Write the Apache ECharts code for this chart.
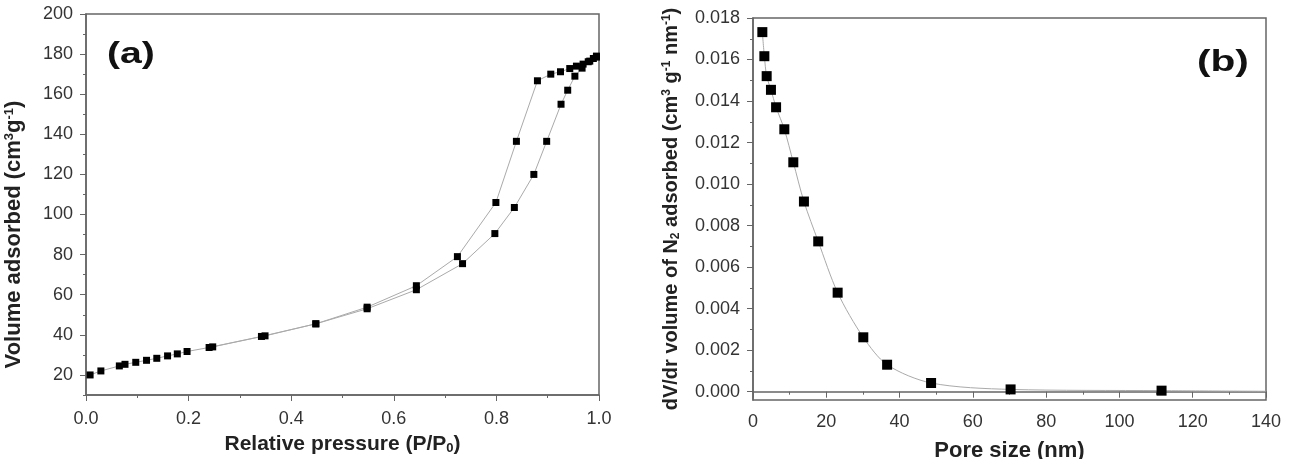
<!DOCTYPE html>
<html>
<head>
<meta charset="utf-8">
<script src="https://cdn.jsdelivr.net/npm/echarts@6/dist/echarts.min.js"></script>
<style>
  html, body { margin: 0; padding: 0; background: #fff; }
  #chart { width: 1299px; height: 459px; }
</style>
</head>
<body>
<div id="chart"></div>
<script>
// (a) N2 isotherm - adsorption branch
var pAds = [0.008, 0.029, 0.065, 0.076, 0.097, 0.118, 0.138, 0.159, 0.178, 0.197, 0.240, 0.342, 0.448, 0.548, 0.644, 0.734, 0.797, 0.835, 0.873, 0.898, 0.926, 0.939, 0.953, 0.967, 0.982, 0.995];
var vAds = [20, 22, 24.5, 25.3, 26.3, 27.3, 28.3, 29.5, 30.5, 31.7, 33.7, 39.2, 45.5, 53, 62.5, 75.5, 90.5, 103.5, 120, 136.5, 155, 162, 169, 173, 176.5, 178.5];
// (a) desorption branch
var pDes = [0.995, 0.989, 0.979, 0.969, 0.956, 0.943, 0.925, 0.906, 0.880, 0.839, 0.799, 0.724, 0.644, 0.548, 0.448, 0.349, 0.247];
var vDes = [179, 177.8, 176.2, 175, 174, 172.8, 171.2, 170, 166.7, 136.5, 106, 79, 64.5, 53.8, 45.5, 39.5, 34];

// (b) pore size distribution
var poreSize = [2.55, 3.1, 3.73, 4.9, 6.3, 8.55, 11.0, 13.9, 17.8, 23.1, 30.1, 36.6, 48.6, 70.3, 111.5, 140];
var dvdr = [0.01732, 0.01616, 0.0152, 0.01454, 0.0137, 0.01264, 0.01105, 0.00916, 0.00724, 0.00477, 0.00262, 0.0013, 0.00042, 0.00011, 0.00005, 0.00002];

// tick values
var volTicks = [20, 40, 60, 80, 100, 120, 140, 160, 180, 200];
var volMinor = [10, 30, 50, 70, 90, 110, 130, 150, 170, 190];
var dvTicks = [0, 0.002, 0.004, 0.006, 0.008, 0.010, 0.012, 0.014, 0.016, 0.018];
var dvMinor = [0.001, 0.003, 0.005, 0.007, 0.009, 0.011, 0.013, 0.015, 0.017];

function pairs(xs, ys) {
  return xs.map(function (x, i) { return [x, ys[i]]; });
}

var chart = echarts.init(document.getElementById('chart'));

var font = 'Arial, "Liberation Sans", sans-serif';
var axisCol = '#666';
var lblStyle = { color: '#333', fontSize: 18, fontFamily: font };
function richFor(size) {
  var small = Math.round(size * 0.6);
  return {
    b: { fontSize: size, fontWeight: 'bold', fontFamily: font, color: '#222' },
    sup: { fontSize: small, fontWeight: 'bold', fontFamily: font, color: '#222', verticalAlign: 'top', padding: [0, 0, 9, 0] },
    sub: { fontSize: small, fontWeight: 'bold', fontFamily: font, color: '#222', verticalAlign: 'bottom', padding: [9, 0, 0, 0] }
  };
}

var option = {
  backgroundColor: '#fff',
  animation: false,
  grid: [
    { left: 86, top: 14, width: 513, height: 381, show: true, borderColor: axisCol, borderWidth: 1.5, containLabel: false, outerBoundsMode: 'none' },
    { left: 753, top: 18, width: 513, height: 382, show: true, borderColor: axisCol, borderWidth: 1.5, containLabel: false, outerBoundsMode: 'none' }
  ],
  xAxis: [
    {
      gridIndex: 0, type: 'value', min: 0, max: 1, interval: 0.2,
      name: '{b|Relative pressure (P/P}{sub|0}{b|)}',
      nameLocation: 'middle', nameGap: 38,
      nameTextStyle: { rich: richFor(21) },
      axisLine: { lineStyle: { color: axisCol, width: 1.5 } },
      axisTick: { length: 6, lineStyle: { color: axisCol } },
      minorTick: { show: true, splitNumber: 2, length: 3, lineStyle: { color: axisCol } },
      axisLabel: Object.assign({ margin: 15, formatter: function (v) { return v.toFixed(1); } }, lblStyle),
      splitLine: { show: false }
    },
    {
      gridIndex: 1, type: 'value', min: 0, max: 140, interval: 20,
      name: '{b|Pore size (nm)}',
      nameLocation: 'middle', nameGap: 40,
      nameTextStyle: { rich: richFor(22) },
      axisLine: { lineStyle: { color: axisCol, width: 1.5 } },
      axisTick: { length: 6, lineStyle: { color: axisCol } },
      minorTick: { show: true, splitNumber: 2, length: 3, lineStyle: { color: axisCol } },
      axisLabel: Object.assign({ margin: 13 }, lblStyle),
      splitLine: { show: false }
    }
  ],
  yAxis: [
    {
      gridIndex: 0, type: 'value', min: 10, max: 200, position: 'left',
      name: '{b|Volume adsorbed (cm}{sup|3}{b|g}{sup|-1}{b|)}',
      nameLocation: 'middle', nameGap: 61,
      nameTextStyle: { rich: richFor(22), padding: [0, 60, 0, 0] },
      axisLine: { lineStyle: { color: axisCol, width: 1.5 } },
      axisTick: { length: 6, customValues: volTicks, lineStyle: { color: axisCol } },
      axisLabel: Object.assign({ margin: 13, customValues: volTicks }, lblStyle),
      splitLine: { show: false }
    },
    {
      gridIndex: 0, type: 'value', min: 10, max: 200, position: 'left',
      axisLine: { show: false },
      axisTick: { length: 3, customValues: volMinor, lineStyle: { color: axisCol } },
      axisLabel: { show: false },
      splitLine: { show: false }
    },
    {
      gridIndex: 1, type: 'value', min: -0.0004, max: 0.018, position: 'left',
      name: '{b|dV/dr volume of N}{sub|2}{b| adsorbed (cm}{sup|3}{b| g}{sup|-1}{b| nm}{sup|-1}{b|)}',
      nameLocation: 'middle', nameGap: 71,
      nameTextStyle: { rich: richFor(20) },
      axisLine: { lineStyle: { color: axisCol, width: 1.5 } },
      axisTick: { length: 6, customValues: dvTicks, lineStyle: { color: axisCol } },
      axisLabel: Object.assign({ margin: 13, customValues: dvTicks, formatter: function (v) { return v.toFixed(3); } }, lblStyle),
      splitLine: { show: false }
    },
    {
      gridIndex: 1, type: 'value', min: -0.0004, max: 0.018, position: 'left',
      axisLine: { show: false },
      axisTick: { length: 3, customValues: dvMinor, lineStyle: { color: axisCol } },
      axisLabel: { show: false },
      splitLine: { show: false }
    }
  ],
  graphic: [
    { type: 'text', x: 107, y: 40, scaleX: 1.35, style: { text: '(a)', font: 'bold 29px ' + font, fill: '#111' } },
    { type: 'text', x: 1197, y: 48, scaleX: 1.4, style: { text: '(b)', font: 'bold 29px ' + font, fill: '#111' } }
  ],
  series: [
    {
      name: 'adsorption', type: 'line', xAxisIndex: 0, yAxisIndex: 0,
      data: pairs(pAds, vAds),
      symbol: 'rect', symbolSize: 7,
      itemStyle: { color: '#000' },
      lineStyle: { color: '#aaa', width: 1 }
    },
    {
      name: 'desorption', type: 'line', xAxisIndex: 0, yAxisIndex: 0,
      data: pairs(pDes, vDes),
      symbol: 'rect', symbolSize: 7,
      itemStyle: { color: '#000' },
      lineStyle: { color: '#aaa', width: 1 }
    },
    {
      name: 'psd', type: 'line', xAxisIndex: 1, yAxisIndex: 2,
      data: pairs(poreSize, dvdr),
      smooth: 0.3,
      symbol: 'rect',
      symbolSize: function (val, params) { return params.dataIndex === poreSize.length - 1 ? 0 : 10; },
      itemStyle: { color: '#000' },
      lineStyle: { color: '#aaa', width: 1 }
    }
  ]
};

chart.setOption(option);
</script>
</body>
</html>
